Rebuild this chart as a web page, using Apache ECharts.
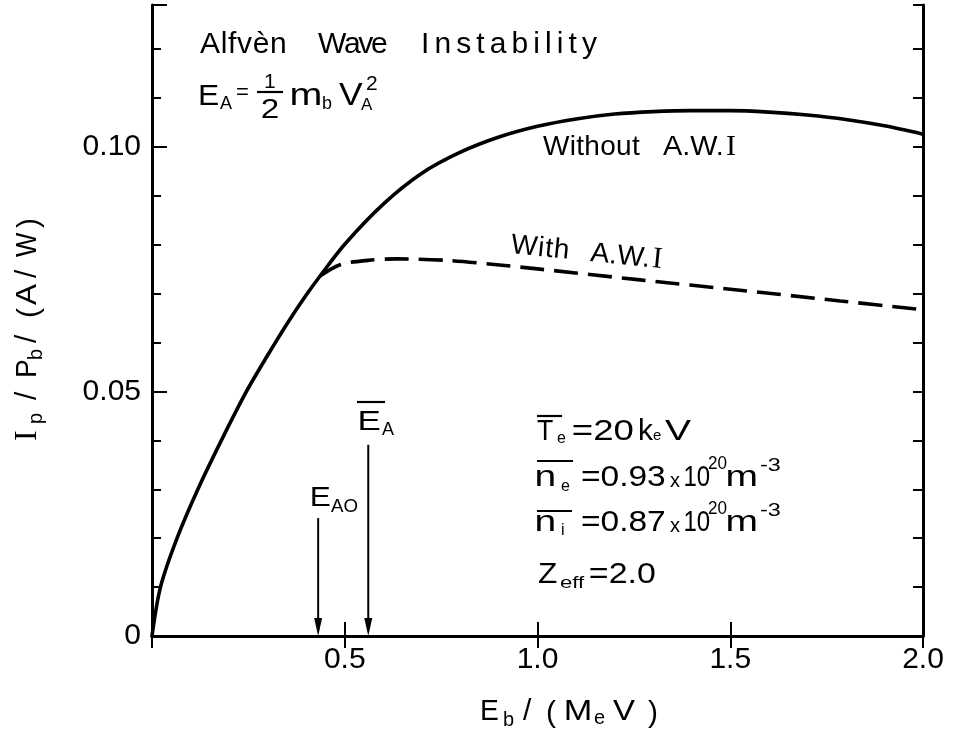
<!DOCTYPE html>
<html>
<head>
<meta charset="utf-8">
<script src="https://cdn.jsdelivr.net/npm/echarts@6/dist/echarts.min.js"></script>
<style>
  html, body { margin: 0; padding: 0; background: #fff; }
  #chart { width: 955px; height: 740px; }
</style>
</head>
<body>
<div id="chart"></div>
<script>
// Beam energy E_b (MeV) against current drive efficiency I_p/P_b (A/W)
const energyWithout = [0, 0.022, 0.065, 0.119, 0.180, 0.245, 0.30, 0.35, 0.40, 0.436, 0.50, 0.60, 0.70, 0.80, 0.90, 1.0, 1.1, 1.2, 1.3, 1.4, 1.5, 1.6, 1.7, 1.8, 1.9, 2.0];
const efficiencyWithout = [0, 0.010, 0.020, 0.030, 0.040, 0.050, 0.0574, 0.0638, 0.0697, 0.0736, 0.0801, 0.0883, 0.0946, 0.0989, 0.1020, 0.1042, 0.1057, 0.1067, 0.1072, 0.1074, 0.1074, 0.1071, 0.1065, 0.1056, 0.1043, 0.1026];

const energyWith = [0.436, 0.488, 0.560, 0.635, 0.764, 0.894, 1.006, 1.266, 1.525, 1.785, 2.0];
const efficiencyWith = [0.0736, 0.0759, 0.0768, 0.0771, 0.0768, 0.0759, 0.0750, 0.0728, 0.0707, 0.0685, 0.0667];

// Critical energies E_A0 and E_A (arrows drawn down to the axis)
const arrowEnergies = [0.431, 0.561];
const arrowTops = [0.0241, 0.0391];

// Tick labels
const xLabelValues = [0.5, 1.0, 1.5, 2.0];
const xLabelTexts = ['0.5', '1.0', '1.5', '2.0'];
const yLabelValues = [0, 0.05, 0.10];
const yLabelTexts = ['0', '0.05', '0.10'];

const SANS = '"Liberation Sans", Arial, sans-serif';
const SERIF = '"Liberation Serif", "Times New Roman", serif';
const INK = '#000';

const measureCtx = document.createElement('canvas').getContext('2d');

function glyph(x, base, ch, font, k, size, sx) {
  return {
    type: 'text', x: x, y: base - k * size, scaleX: sx || 1, silent: true,
    style: {
      text: ch, font: font, fill: INK,
      align: 'left', verticalAlign: 'middle',
      textAlign: 'left', textVerticalAlign: 'middle'
    }
  };
}

// Lettering whose ink starts at x0; when x1 is given it is stretched to end there
function fit(x0, x1, base, text, size, fam) {
  fam = fam || SANS;
  const font = size + 'px ' + fam;
  const k = fam === SERIF ? 0.3375 : 0.3465;
  measureCtx.font = font;
  const m = measureCtx.measureText(text);
  const ink = m.actualBoundingBoxLeft + m.actualBoundingBoxRight;
  const s = x1 == null ? 1 : Math.min(1.3, Math.max(0.8, (x1 - x0) / ink));
  return glyph(x0 + m.actualBoundingBoxLeft * s, base, text, font, k, size, s);
}

// Word lettering, letter-spaced so its ink runs from x0 to x1
function spaced(x0, x1, base, text, size, fam) {
  fam = fam || SANS;
  const font = size + 'px ' + fam;
  const k = fam === SERIF ? 0.3375 : 0.3465;
  measureCtx.font = font;
  const chars = Array.from(text);
  const first = measureCtx.measureText(chars[0]);
  const last = measureCtx.measureText(chars[chars.length - 1]);
  const adv = chars.map(c => measureCtx.measureText(c).width);
  let natural = first.actualBoundingBoxLeft + last.actualBoundingBoxRight;
  for (let i = 0; i < chars.length - 1; i++) natural += adv[i];
  const gap = Math.min(8, Math.max(-3, (x1 - x0 - natural) / (chars.length - 1)));
  let cx = x0 + first.actualBoundingBoxLeft;
  return {
    type: 'group', silent: true,
    children: chars.map((c, i) => {
      const el = glyph(cx, base, c, font, k, size, 1);
      cx += adv[i] + gap;
      return el;
    })
  };
}

function bar(x1, x2, y, w) {
  return { type: 'line', silent: true, shape: { x1: x1, y1: y, x2: x2, y2: y }, style: { stroke: INK, lineWidth: w || 2.2 } };
}

function labelAt(values, texts, v) {
  const i = values.findIndex(t => Math.abs(t - v) < 1e-6);
  return i >= 0 ? texts[i] : '';
}

const annotations = [
  // heading
  spaced(200, 285, 55, 'Alfvèn', 30),
  spaced(318, 387, 55, 'Wave', 30),
  spaced(423, 597, 55, 'Instability', 30),
  // E_A = 1/2 m_b V_A^2
  fit(200, 218, 107, 'E', 30),
  fit(220, null, 110, 'A', 18),
  fit(237, null, 101, '=', 22),
  fit(265, null, 89, '1', 21),
  bar(257, 283, 92, 2.2),
  fit(262, 278, 120, '2', 27),
  fit(292, 320, 107, 'm', 31),
  fit(323, null, 110, 'b', 18),
  fit(339, 363, 107, 'V', 31),
  fit(367, null, 91, '2', 21),
  fit(361, null, 111, 'A', 17),
  // curve labels
  spaced(543, 640, 157, 'Without', 28),
  fit(663, 722, 157, 'A.W.', 28),
  fit(727, null, 157, 'I', 30, SERIF),
  {
    type: 'group', x: 510, y: 255, rotation: -0.1, silent: true,
    children: [
      spaced(0, 57, 0, 'With', 28),
      fit(80, 138, 0, 'A.W.', 28),
      fit(143, null, 0, 'I', 30, SERIF)
    ]
  },
  // arrow labels
  bar(357, 385, 402),
  fit(360, 380, 432, 'E', 28),
  fit(382, null, 436, 'A', 18),
  fit(312, 330, 508, 'E', 28),
  fit(331, 358, 513, 'AO', 18),
  // plasma parameters
  bar(537, 562, 416),
  fit(537, 553, 442, 'T', 30),
  fit(557, null, 444, 'e', 16),
  fit(573, 633, 442, '=20', 30),
  fit(640, null, 442, 'k', 30),
  fit(653, null, 441, 'e', 15),
  fit(665, 693, 442, 'V', 30),

  bar(537, 573, 461),
  fit(537, 555, 488, 'n', 30),
  fit(561, null, 492, 'e', 16),
  fit(582, 665, 488, '=0.93', 30),
  fit(670, 680, 488, 'x', 20),
  fit(685, 707, 488, '10', 30),
  fit(708, 727, 470, '20', 18),
  fit(728, 757, 488, 'm', 30),
  fit(760, 786, 472, '-3', 18),

  bar(537, 572, 511),
  fit(537, 555, 533, 'n', 30),
  fit(562, null, 536, 'i', 16),
  fit(582, 665, 533, '=0.87', 30),
  fit(670, 680, 533, 'x', 20),
  fit(685, 707, 533, '10', 30),
  fit(708, 727, 515, '20', 18),
  fit(728, 757, 533, 'm', 30),
  fit(760, 786, 517, '-3', 18),

  fit(538, 557, 585, 'Z', 30),
  fit(560, 587, 589, 'eff', 17),
  fit(590, 655, 585, '=2.0', 30),

  // x axis title: E_b / (M_e V)
  fit(482, 498, 722, 'E', 30),
  fit(504, null, 727, 'b', 20),
  fit(523, null, 722, '/', 30),
  fit(547, null, 724, '(', 30),
  fit(566, 590, 722, 'M', 30),
  fit(594, null, 725, 'e', 20),
  fit(613, 635, 722, 'V', 30),
  fit(648, null, 724, ')', 30),

  // y axis title: I_p / P_b / (A/W), reading upwards
  {
    type: 'group', x: 38, y: 440, rotation: Math.PI / 2, silent: true,
    children: [
      fit(0, null, 0, 'I', 32, SERIF),
      fit(17, null, 5, 'p', 20),
      fit(40, null, 0, '/', 30),
      fit(64, 80, 0, 'P', 30),
      fit(81, null, 5, 'b', 20),
      fit(97, null, 0, '/', 30),
      fit(123, null, 2, '(', 30),
      fit(135, 156, 0, 'A', 30),
      fit(162, null, 0, '/', 30),
      fit(183, 208, 0, 'W', 30),
      fit(212, null, 2, ')', 30)
    ]
  }
];

const chart = echarts.init(document.getElementById('chart'), null, { renderer: 'canvas' });

const axisLine = { show: true, lineStyle: { color: INK, width: 3 } };
const tickStyle = { color: INK, width: 2 };

chart.setOption({
  animation: false,
  backgroundColor: '#fff',
  grid: { left: 152, right: 32, top: 5, bottom: 104, containLabel: false },
  xAxis: [
    {
      type: 'value', position: 'bottom', min: 0, max: 2, interval: 0.5,
      axisLine: axisLine,
      axisTick: { show: true, inside: true, length: 14, lineStyle: tickStyle },
      axisLabel: {
        color: INK, fontFamily: SANS, fontSize: 30, margin: 9,
        formatter: v => labelAt(xLabelValues, xLabelTexts, v)
      },
      splitLine: { show: false }
    },
    {
      type: 'value', position: 'top', min: 0, max: 2, interval: 0.5,
      axisLine: axisLine,
      axisTick: { show: true, inside: true, length: 12, lineStyle: tickStyle },
      axisLabel: { show: false },
      splitLine: { show: false }
    }
  ],
  yAxis: [
    {
      type: 'value', position: 'left', min: 0, max: 0.129, interval: 0.01,
      axisLine: axisLine,
      axisTick: { show: true, inside: true, length: 9, lineStyle: tickStyle },
      axisLabel: { show: false },
      splitLine: { show: false }
    },
    {
      type: 'value', position: 'left', min: 0, max: 0.129, interval: 0.05,
      axisLine: { show: false },
      axisTick: { show: true, inside: true, length: 15, lineStyle: tickStyle },
      axisLabel: {
        color: INK, fontFamily: SANS, fontSize: 30, margin: 11,
        formatter: v => labelAt(yLabelValues, yLabelTexts, v)
      },
      splitLine: { show: false }
    },
    {
      type: 'value', position: 'right', min: 0, max: 0.129, interval: 0.01,
      axisLine: axisLine,
      axisTick: { show: true, inside: true, length: 10, lineStyle: tickStyle },
      axisLabel: { show: false },
      splitLine: { show: false }
    }
  ],
  series: [
    {
      name: 'Without A.W.I', type: 'line',
      data: energyWithout.map((e, i) => [e, efficiencyWithout[i]]),
      smooth: 0.3, showSymbol: false, symbol: 'none',
      lineStyle: { color: INK, width: 3.6 },
      z: 3
    },
    {
      name: 'With A.W.I', type: 'line',
      data: energyWith.map((e, i) => [e, efficiencyWith[i]]),
      smooth: 0.3, showSymbol: false, symbol: 'none',
      lineStyle: { color: INK, width: 3.6, type: [24, 10] },
      z: 3
    },
    {
      name: 'critical energies', type: 'custom',
      data: arrowEnergies.map((e, i) => [e, arrowTops[i]]),
      renderItem: function (params, api) {
        const top = api.coord([api.value(0), api.value(1)]);
        const bot = api.coord([api.value(0), 0]);
        const x = top[0];
        return {
          type: 'group',
          children: [
            { type: 'line', shape: { x1: x, y1: top[1], x2: x, y2: bot[1] - 6 }, style: { stroke: INK, lineWidth: 2 } },
            { type: 'polygon', shape: { points: [[x - 4, bot[1] - 18], [x + 4, bot[1] - 18], [x, bot[1]]] }, style: { fill: INK } }
          ]
        };
      },
      z: 4
    }
  ],
  graphic: { elements: annotations }
});
</script>
</body>
</html>
